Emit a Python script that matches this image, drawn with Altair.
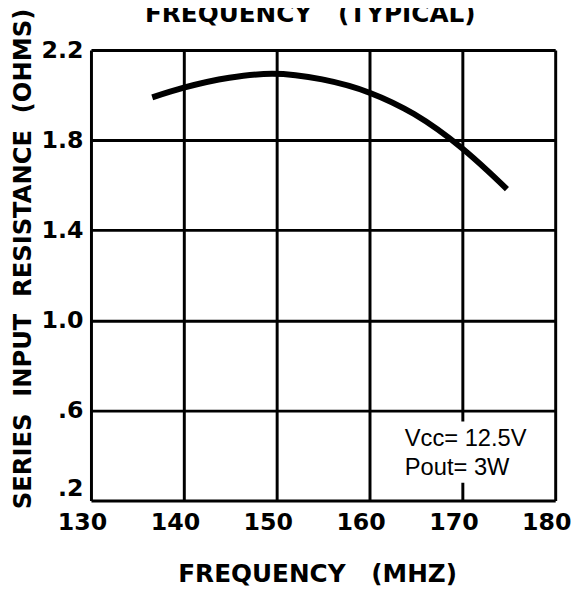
import altair as alt
import pandas as pd

# Curve
freq = [136.6, 140.0, 144.9, 149.5, 154.9, 160.0, 164.8, 170.0, 172.7, 174.8]
res = [1.990, 2.033, 2.077, 2.095, 2.070, 2.011, 1.916, 1.763, 1.665, 1.583]

x_ticks = [130, 140, 150, 160, 170, 180]
y_ticks = [0.2, 0.6, 1.0, 1.4, 1.8, 2.2]

NB = "\u00a0"
chart_title = "FREQUENCY" + NB * 3 + "(TYPICAL)"
x_title = "FREQUENCY" + NB * 3 + "(MHZ)"
y_title = "SERIES" + NB * 2 + "INPUT" + NB * 2 + "RESISTANCE" + NB * 2 + "(OHMS)"

note_lines = ["Vcc= 12.5V", "Pout= 3W"]
note_x = [163.8, 163.8]
note_y = [0.441, 0.314]

box = {"x": [162.8], "x2": [176.6], "y": [0.279], "y2": [0.551]}

curve = pd.DataFrame({"f": freq, "r": res})
notes = pd.DataFrame({"t": note_lines, "f": note_x, "r": note_y})
boxdf = pd.DataFrame(box)
titledf = pd.DataFrame({"t": [chart_title]})

xs = alt.Scale(domain=[130, 180], nice=False, zero=False)
ys = alt.Scale(domain=[0.2, 2.2], nice=False, zero=False)

x_axis = alt.Axis(
    values=x_ticks, format="d", title=x_title,
    grid=True, gridColor="black", gridWidth=3, gridOpacity=1,
    domain=False, ticks=False,
    labelFont="DejaVu Sans", labelFontWeight="bold", labelFontSize=24, labelColor="black",
    labelPadding=10, labelOffset=-9, labelBaseline="top", labelFlush=False,
    titleFont="DejaVu Sans", titleFontWeight="bold", titleFontSize=25, titleColor="black",
    titleX=229, titleY=82, titleAlign="center", titleBaseline="alphabetic",
)
y_axis = alt.Axis(
    values=y_ticks, title=y_title,
    labelExpr="datum.value < 0.9 ? '.' + format(datum.value*10, 'd') : format(datum.value, '.1f')",
    grid=True, gridColor="black", gridWidth=3, gridOpacity=1,
    domain=False, ticks=False,
    labelFont="DejaVu Sans", labelFontWeight="bold", labelFontSize=24, labelColor="black",
    labelPadding=8, labelFlush=False,
    labelBaseline=alt.condition("datum.value < 0.3", alt.value("bottom"), alt.value("middle")),
    titleFont="DejaVu Sans", titleFontWeight="bold", titleFontSize=24.5, titleColor="black",
    titleX=-68, titleY=211, titleAngle=270, titleAlign="center", titleBaseline="middle",
)

line = alt.Chart(curve).mark_line(color="black", strokeWidth=6, interpolate="monotone",
                                  strokeCap="butt").encode(
    x=alt.X("f:Q", scale=xs, axis=x_axis),
    y=alt.Y("r:Q", scale=ys, axis=y_axis),
)

rect = alt.Chart(boxdf).mark_rect(color="white").encode(
    x=alt.X("x:Q", scale=xs), x2="x2:Q",
    y=alt.Y("y:Q", scale=ys), y2="y2:Q",
)

text = alt.Chart(notes).mark_text(font="Liberation Sans", fontSize=24, color="black",
                                  align="left", baseline="alphabetic").encode(
    x=alt.X("f:Q", scale=xs), y=alt.Y("r:Q", scale=ys), text="t:N",
)

title_text = alt.Chart(titledf).mark_text(
    font="DejaVu Sans", fontSize=25, fontWeight="bold", color="black",
    align="center", baseline="alphabetic",
).encode(x=alt.value(222), y=alt.value(-28), text="t:N")

chart = alt.layer(rect, line, text, title_text).properties(
    width=470, height=456,
    autosize=alt.AutoSizeParams(type="none"),
    padding={"left": 84, "top": 39, "right": 16, "bottom": 88},
).configure_view(stroke="black", strokeWidth=4).configure(background="white")

chart.save("out.html", embed_options={"renderer": "svg", "actions": False})
